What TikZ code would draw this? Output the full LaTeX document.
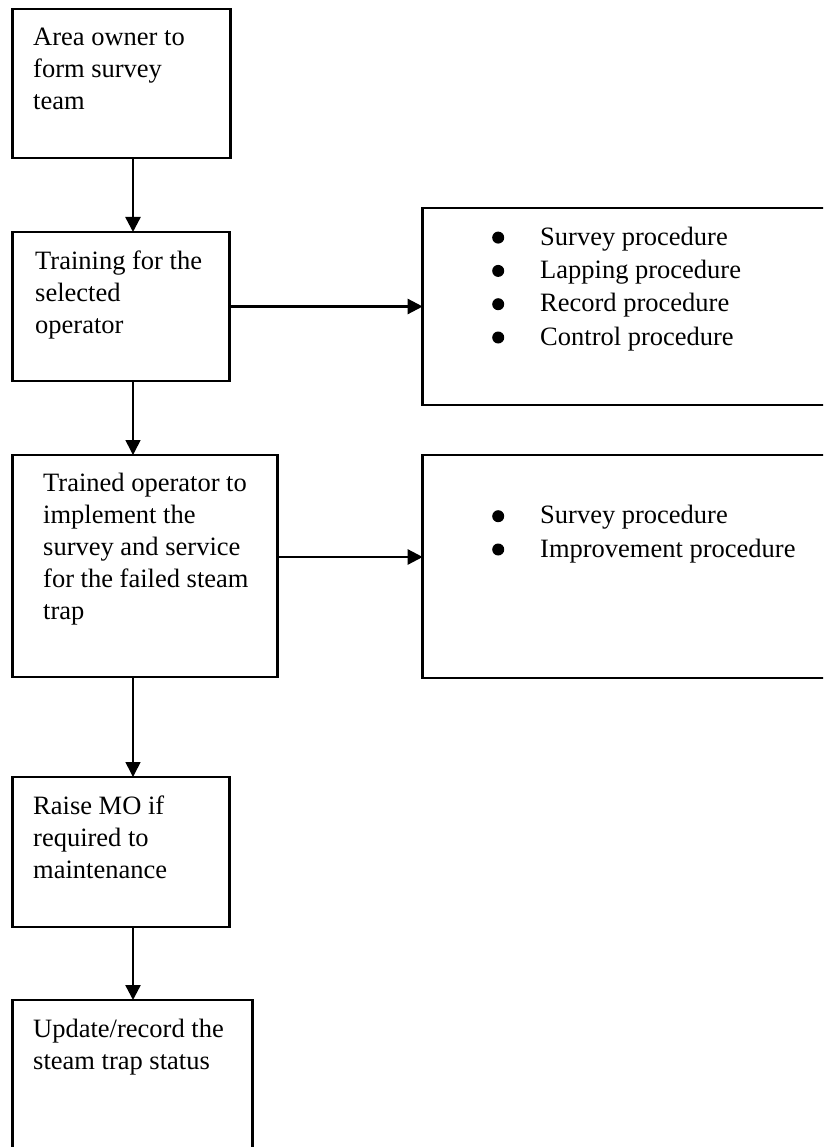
\documentclass[tikz,border=0pt]{standalone}
\usepackage{fontspec}
\setmainfont{Liberation Serif}
\usetikzlibrary{arrows.meta}
\tikzset{
  box/.style={draw, line width=2.6pt, inner sep=0pt, outer sep=0pt, anchor=north west},
  txt/.style={anchor=base west, inner sep=0pt, align=left, font=\fontsize{26.5}{32}\selectfont},
  lst/.style={anchor=base west, inner sep=0pt, align=left, font=\fontsize{26.5}{33.3}\selectfont},
  arr/.style={line width=2.4pt, -{Triangle[length=15pt,width=15pt]}},
  arrthin/.style={line width=1.6pt, -{Triangle[length=15pt,width=15pt]}}
}
\newcommand{\bul}{\makebox[48pt][l]{\raisebox{1.5pt}{\tikz\fill (0,0) circle (6pt);}}}
\begin{document}
\begin{tikzpicture}[x=1pt,y=-1pt]
\useasboundingbox (0,0) rectangle (823,1147);
\clip (0,0) rectangle (823,1147);
% boxes
\node[box, minimum width=218pt, minimum height=149pt] (b1) at (12.7,9) {};
\node[box, minimum width=217pt, minimum height=149pt] (b2) at (12.7,232) {};
\node[box, minimum width=265pt, minimum height=222pt] (b3) at (12.7,455) {};
\node[box, minimum width=217pt, minimum height=150pt] (b4) at (12.7,777) {};
\node[box, minimum width=240pt, minimum height=170pt] (b5) at (12.7,1000) {};
\node[box, minimum width=420pt, minimum height=197pt] (ba) at (422.7,208) {};
\node[box, minimum width=420pt, minimum height=223pt] (bb) at (422.7,455) {};
% texts (base anchor = last line's baseline)
\node[txt] (t1) at (33,110) {Area owner to\\form survey\\team};
\node[txt] (t2) at (35,333) {Training for the\\selected\\operator};
\node[txt] (t3) at (43,619) {Trained operator to\\implement the\\survey and service\\for the failed steam\\trap};
\node[txt] (t4) at (33,878) {Raise MO if\\required to\\maintenance};
\node[txt] (t5) at (33,1069) {Update/record the\\steam trap status};
\node[lst] (la) at (492,345) {\bul Survey procedure\\\bul Lapping procedure\\\bul Record procedure\\\bul Control procedure};
\node[lst] (lb) at (492,557) {\bul Survey procedure\\\bul Improvement procedure};
% connectors
\coordinate (vx) at (133,0);
\coordinate (h3) at (0,557);
\draw[arr] (b1.south -| vx) -- (b2.north -| vx);
\draw[arrthin] (b2.south -| vx) -- (b3.north -| vx);
\draw[arrthin] (b3.south -| vx) -- (b4.north -| vx);
\draw[arr] (b4.south -| vx) -- (b5.north -| vx);
\draw[arr] (b2.east) -- (ba.west);
\draw[arr] (b3.east |- h3) -- (bb.west |- h3);
\end{tikzpicture}
\end{document}
